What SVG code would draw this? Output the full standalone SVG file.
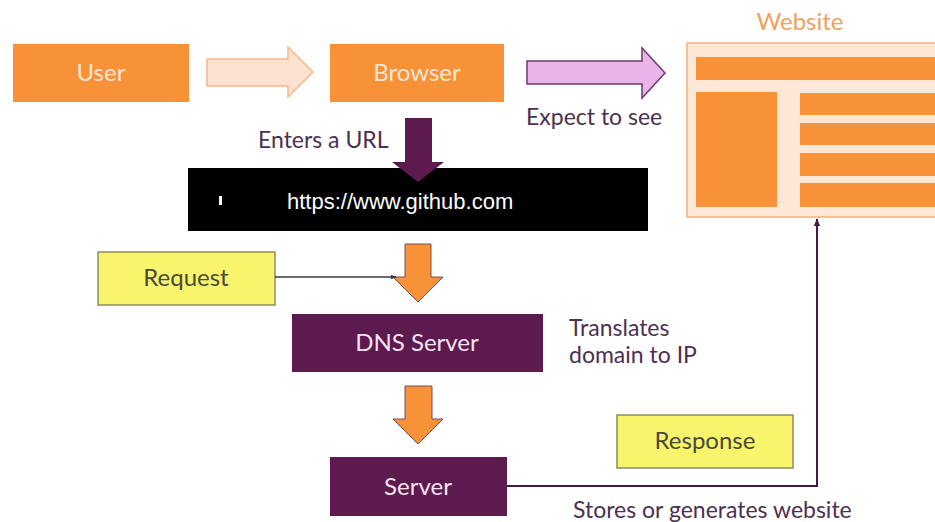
<svg xmlns="http://www.w3.org/2000/svg" width="935" height="522" viewBox="0 0 935 522">
<defs>
<style>
.lbl{font-family:Lato,"Open Sans",sans-serif;font-size:23px;fill:#4d3050}
.ob{fill:#f79239}
.otxt{font-family:Lato,"Open Sans",sans-serif;font-size:24px;fill:#fde6d4;text-anchor:middle}
.pb{fill:#5c1a4f}
.ptxt{font-family:Lato,"Open Sans",sans-serif;font-size:24px;fill:#f6e3f1;text-anchor:middle}
.yb{fill:#f8f46c;stroke:#8c8c60;stroke-width:1.5}
.ytxt{font-family:Lato,"Open Sans",sans-serif;font-size:24px;fill:#4a4a3a;text-anchor:middle}
.darr{fill:#f79239;stroke:#7a4a5a;stroke-width:1}
</style>
<marker id="ah" viewBox="0 0 10 10" refX="9" refY="5" markerWidth="6" markerHeight="6" orient="auto" markerUnits="userSpaceOnUse">
<path d="M0,1 L10,5 L0,9 z" fill="#3a3a3a"/>
</marker>
<marker id="ahp" viewBox="0 0 10 10" refX="9" refY="5" markerWidth="8" markerHeight="8" orient="auto" markerUnits="userSpaceOnUse">
<path d="M0,1 L10,5 L0,9 z" fill="#4a1a45"/>
</marker>
</defs>
<rect width="935" height="522" fill="#ffffff"/>

<g id="user">
<rect class="ob" x="13" y="44" width="176" height="58"/>
<text class="otxt" x="101" y="81">User</text>
</g>
<g id="browser">
<rect class="ob" x="330" y="44" width="174" height="58"/>
<text class="otxt" x="417" y="81">Browser</text>
</g>
<g id="website">
<text x="800" y="30" font-family="Lato,'Open Sans',sans-serif" font-size="24" fill="#f0a060" text-anchor="middle">Website</text>
<rect x="687" y="43" width="260" height="174" fill="#fde8d8" stroke="#f5b07a" stroke-width="1.5"/>
<rect class="ob" x="696" y="57" width="250" height="23"/>
<rect class="ob" x="696" y="92" width="81" height="115"/>
<rect class="ob" x="800" y="93" width="146" height="22"/>
<rect class="ob" x="800" y="123" width="146" height="22"/>
<rect class="ob" x="800" y="153" width="146" height="23"/>
<rect class="ob" x="800" y="183" width="146" height="24"/>
</g>
<g id="url">
<rect x="188" y="168" width="460" height="63" fill="#000000"/>
<rect x="219" y="196" width="3" height="9" fill="#ffffff"/>
<text x="287" y="209" font-family="'Liberation Sans',Arial,sans-serif" font-size="22" fill="#ffffff">https://www.github.com</text>
</g>
<g id="request">
<rect class="yb" x="98" y="252" width="177" height="53"/>
<text class="ytxt" x="186" y="286">Request</text>
</g>
<g id="dns">
<rect class="pb" x="292" y="314" width="251" height="58"/>
<text class="ptxt" x="417" y="351">DNS Server</text>
</g>
<g id="server">
<rect class="pb" x="330" y="457" width="177" height="59"/>
<text class="ptxt" x="418" y="495">Server</text>
</g>
<g id="response">
<rect class="yb" x="617" y="415" width="176" height="53"/>
<text class="ytxt" x="705" y="449">Response</text>
</g>

<g id="connectors">
<path d="M207,59 L288,59 L288,47 L313,72 L288,97 L288,86 L207,86 Z" fill="#fde2d2" stroke="#f5b888" stroke-width="1.5"/>
<path d="M527,61 L642,61 L642,48 L665,73 L642,98 L642,84 L527,84 Z" fill="#e9b5e8" stroke="#6e3a6e" stroke-width="1.5"/>
<path d="M405,118 L432,118 L432,162 L444,162 L418,182 L392,162 L405,162 Z" fill="#5c1a4f"/>
<path class="darr" d="M405,244 L431,244 L431,277 L443,277 L418,302 L393,277 L405,277 Z"/>
<path class="darr" d="M405,386 L432,386 L432,419 L443,419 L418,444 L393,419 L405,419 Z"/>
<line x1="275" y1="277" x2="396" y2="277" stroke="#3a3a3a" stroke-width="1.5" marker-end="url(#ah)"/>
<polyline points="507,486 817,486 817,219" fill="none" stroke="#4a1a45" stroke-width="2" marker-end="url(#ahp)"/>
<text class="lbl" x="258" y="148">Enters a URL</text>
<text class="lbl" x="526" y="125">Expect to see</text>
<text class="lbl" x="569" y="336">Translates</text>
<text class="lbl" x="569" y="363">domain to IP</text>
<text class="lbl" x="573" y="518">Stores or generates website</text>
</g>
</svg>
